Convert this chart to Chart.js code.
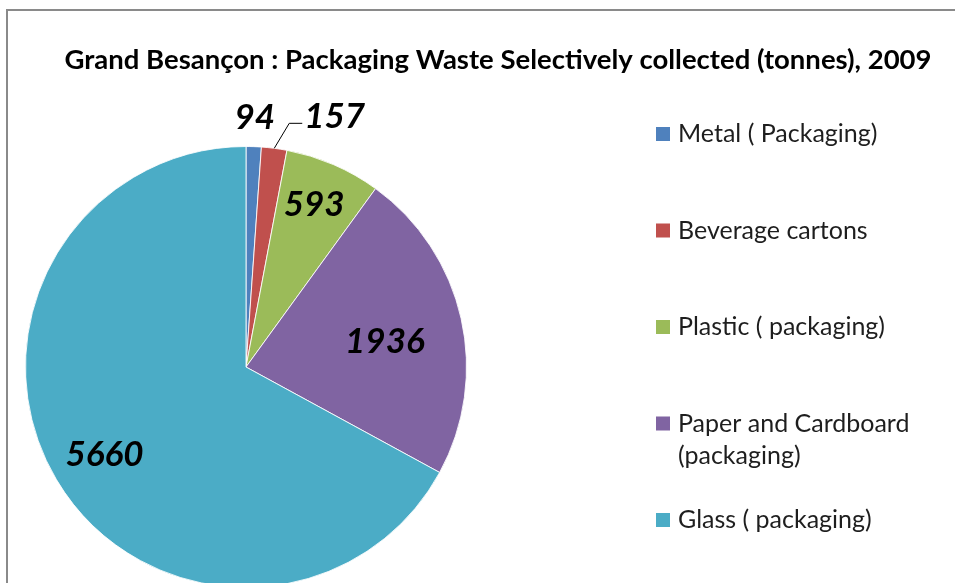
<!DOCTYPE html>
<html>
<head>
<meta charset="utf-8">
<script src="https://cdn.jsdelivr.net/npm/chart.js@4/dist/chart.umd.min.js"></script>
<style>
  html, body { margin: 0; padding: 0; background: #fff; overflow: hidden; }
  #wrap { width: 955px; height: 583px; overflow: hidden; }
</style>
</head>
<body>
<div id="wrap"><canvas id="c" width="955" height="600"></canvas></div>
<script>
// Packaging waste selectively collected in Grand Besançon, 2009 (tonnes)
const chartTitle = 'Grand Besançon : Packaging Waste Selectively collected (tonnes), 2009';
const categories = ['Metal ( Packaging)', 'Beverage cartons', 'Plastic ( packaging)', 'Paper and Cardboard (packaging)', 'Glass ( packaging)'];
const tonnes = [94, 157, 593, 1936, 5660];
const sliceColors = ['#4F81BD', '#C0504D', '#9BBB59', '#8064A2', '#4BACC6'];

const FONT = 'Lato, "Open Sans", sans-serif';

// where each value label sits: a fraction of the radius along the slice's
// middle angle (plus a small angular shift), or a leader line off the rim
const labelPlacement = [
  { r: 1.13, shift: 0 },
  { leader: [15, -25, 13] },
  { r: 0.8, shift: -0.6 },
  { r: 0.64, shift: 2.4 },
  { r: 0.755, shift: -1.1 }
];

// legend geometry
const legendBox = { x: 656, top: 134, step: 96.5, box: 14, size: 25, lineHeight: 32, maxWidth: 250 };

// frame line around the chart
const framePlugin = {
  id: 'frame',
  beforeDraw(chart) {
    const ctx = chart.ctx;
    ctx.save();
    ctx.strokeStyle = '#8a8a8a';
    ctx.lineWidth = 2;
    ctx.beginPath();
    ctx.moveTo(7, 620);
    ctx.lineTo(7, 10);
    ctx.lineTo(980, 10);
    ctx.stroke();
    ctx.restore();
  }
};

// title, centred above the plot
const titlePlugin = {
  id: 'topTitle',
  afterDraw(chart) {
    const ctx = chart.ctx;
    ctx.save();
    ctx.font = 'bold 27.5px ' + FONT;
    ctx.fillStyle = '#000';
    ctx.textAlign = 'center';
    ctx.textBaseline = 'middle';
    ctx.fillText(chartTitle, 498, 60);
    ctx.restore();
  }
};

// value labels placed along each slice's middle angle
const valueLabelPlugin = {
  id: 'valueLabels',
  afterDatasetsDraw(chart) {
    const ctx = chart.ctx;
    const meta = chart.getDatasetMeta(0);
    const values = chart.data.datasets[0].data;
    ctx.save();
    ctx.font = 'italic bold 35px ' + FONT;
    ctx.fillStyle = '#000';
    ctx.textBaseline = 'middle';
    meta.data.forEach((arc, i) => {
      const p = arc.getProps(['x', 'y', 'startAngle', 'endAngle', 'outerRadius'], true);
      const place = labelPlacement[i];
      const mid = (p.startAngle + p.endAngle) / 2;
      const text = String(values[i]);
      if (place.leader) {
        const ox = p.x + p.outerRadius * Math.cos(mid);
        const oy = p.y + p.outerRadius * Math.sin(mid);
        const ex = ox + place.leader[0], ey = oy + place.leader[1];
        ctx.strokeStyle = '#000';
        ctx.lineWidth = 1;
        ctx.beginPath();
        ctx.moveTo(ox, oy);
        ctx.lineTo(ex, ey);
        ctx.lineTo(ex + place.leader[2], ey);
        ctx.stroke();
        ctx.textAlign = 'left';
        ctx.fillText(text, ex + place.leader[2] + 2, ey - 7);
      } else {
        const a = mid + place.shift * Math.PI / 180;
        const r = p.outerRadius * place.r;
        ctx.textAlign = 'center';
        ctx.fillText(text, p.x + r * Math.cos(a), p.y + r * Math.sin(a));
      }
    });
    ctx.restore();
  }
};

// legend on the right, wrapping long entries
const sideLegendPlugin = {
  id: 'sideLegend',
  afterDraw(chart) {
    const ctx = chart.ctx;
    const ds = chart.data.datasets[0];
    const L = legendBox;
    ctx.save();
    ctx.font = L.size + 'px ' + FONT;
    ctx.textBaseline = 'middle';
    ctx.textAlign = 'left';
    chart.data.labels.forEach((label, i) => {
      const cy = L.top + L.step * i;
      ctx.fillStyle = ds.backgroundColor[i];
      ctx.fillRect(L.x, cy - L.box / 2, L.box, L.box);
      const words = label.split(' ');
      const lines = [];
      let line = '';
      words.forEach(w => {
        const test = line ? line + ' ' + w : w;
        if (ctx.measureText(test).width > L.maxWidth && line) {
          lines.push(line);
          line = w;
        } else {
          line = test;
        }
      });
      lines.push(line);
      ctx.fillStyle = '#1e1e1e';
      lines.forEach((ln, k) => ctx.fillText(ln, L.x + L.box + 8, cy + k * L.lineHeight));
    });
    ctx.restore();
  }
};

new Chart(document.getElementById('c'), {
  type: 'pie',
  data: {
    labels: categories,
    datasets: [{
      data: tonnes,
      backgroundColor: sliceColors,
      borderColor: 'rgba(255,255,255,0.85)',
      borderWidth: 1
    }]
  },
  options: {
    responsive: false,
    animation: false,
    devicePixelRatio: 1,
    events: [],
    layout: { padding: { left: 25, top: 146, right: 488, bottom: 12 } },
    plugins: {
      legend: { display: false },
      tooltip: { enabled: false },
      title: { display: false }
    }
  },
  plugins: [framePlugin, valueLabelPlugin, titlePlugin, sideLegendPlugin]
});
</script>
</body>
</html>
